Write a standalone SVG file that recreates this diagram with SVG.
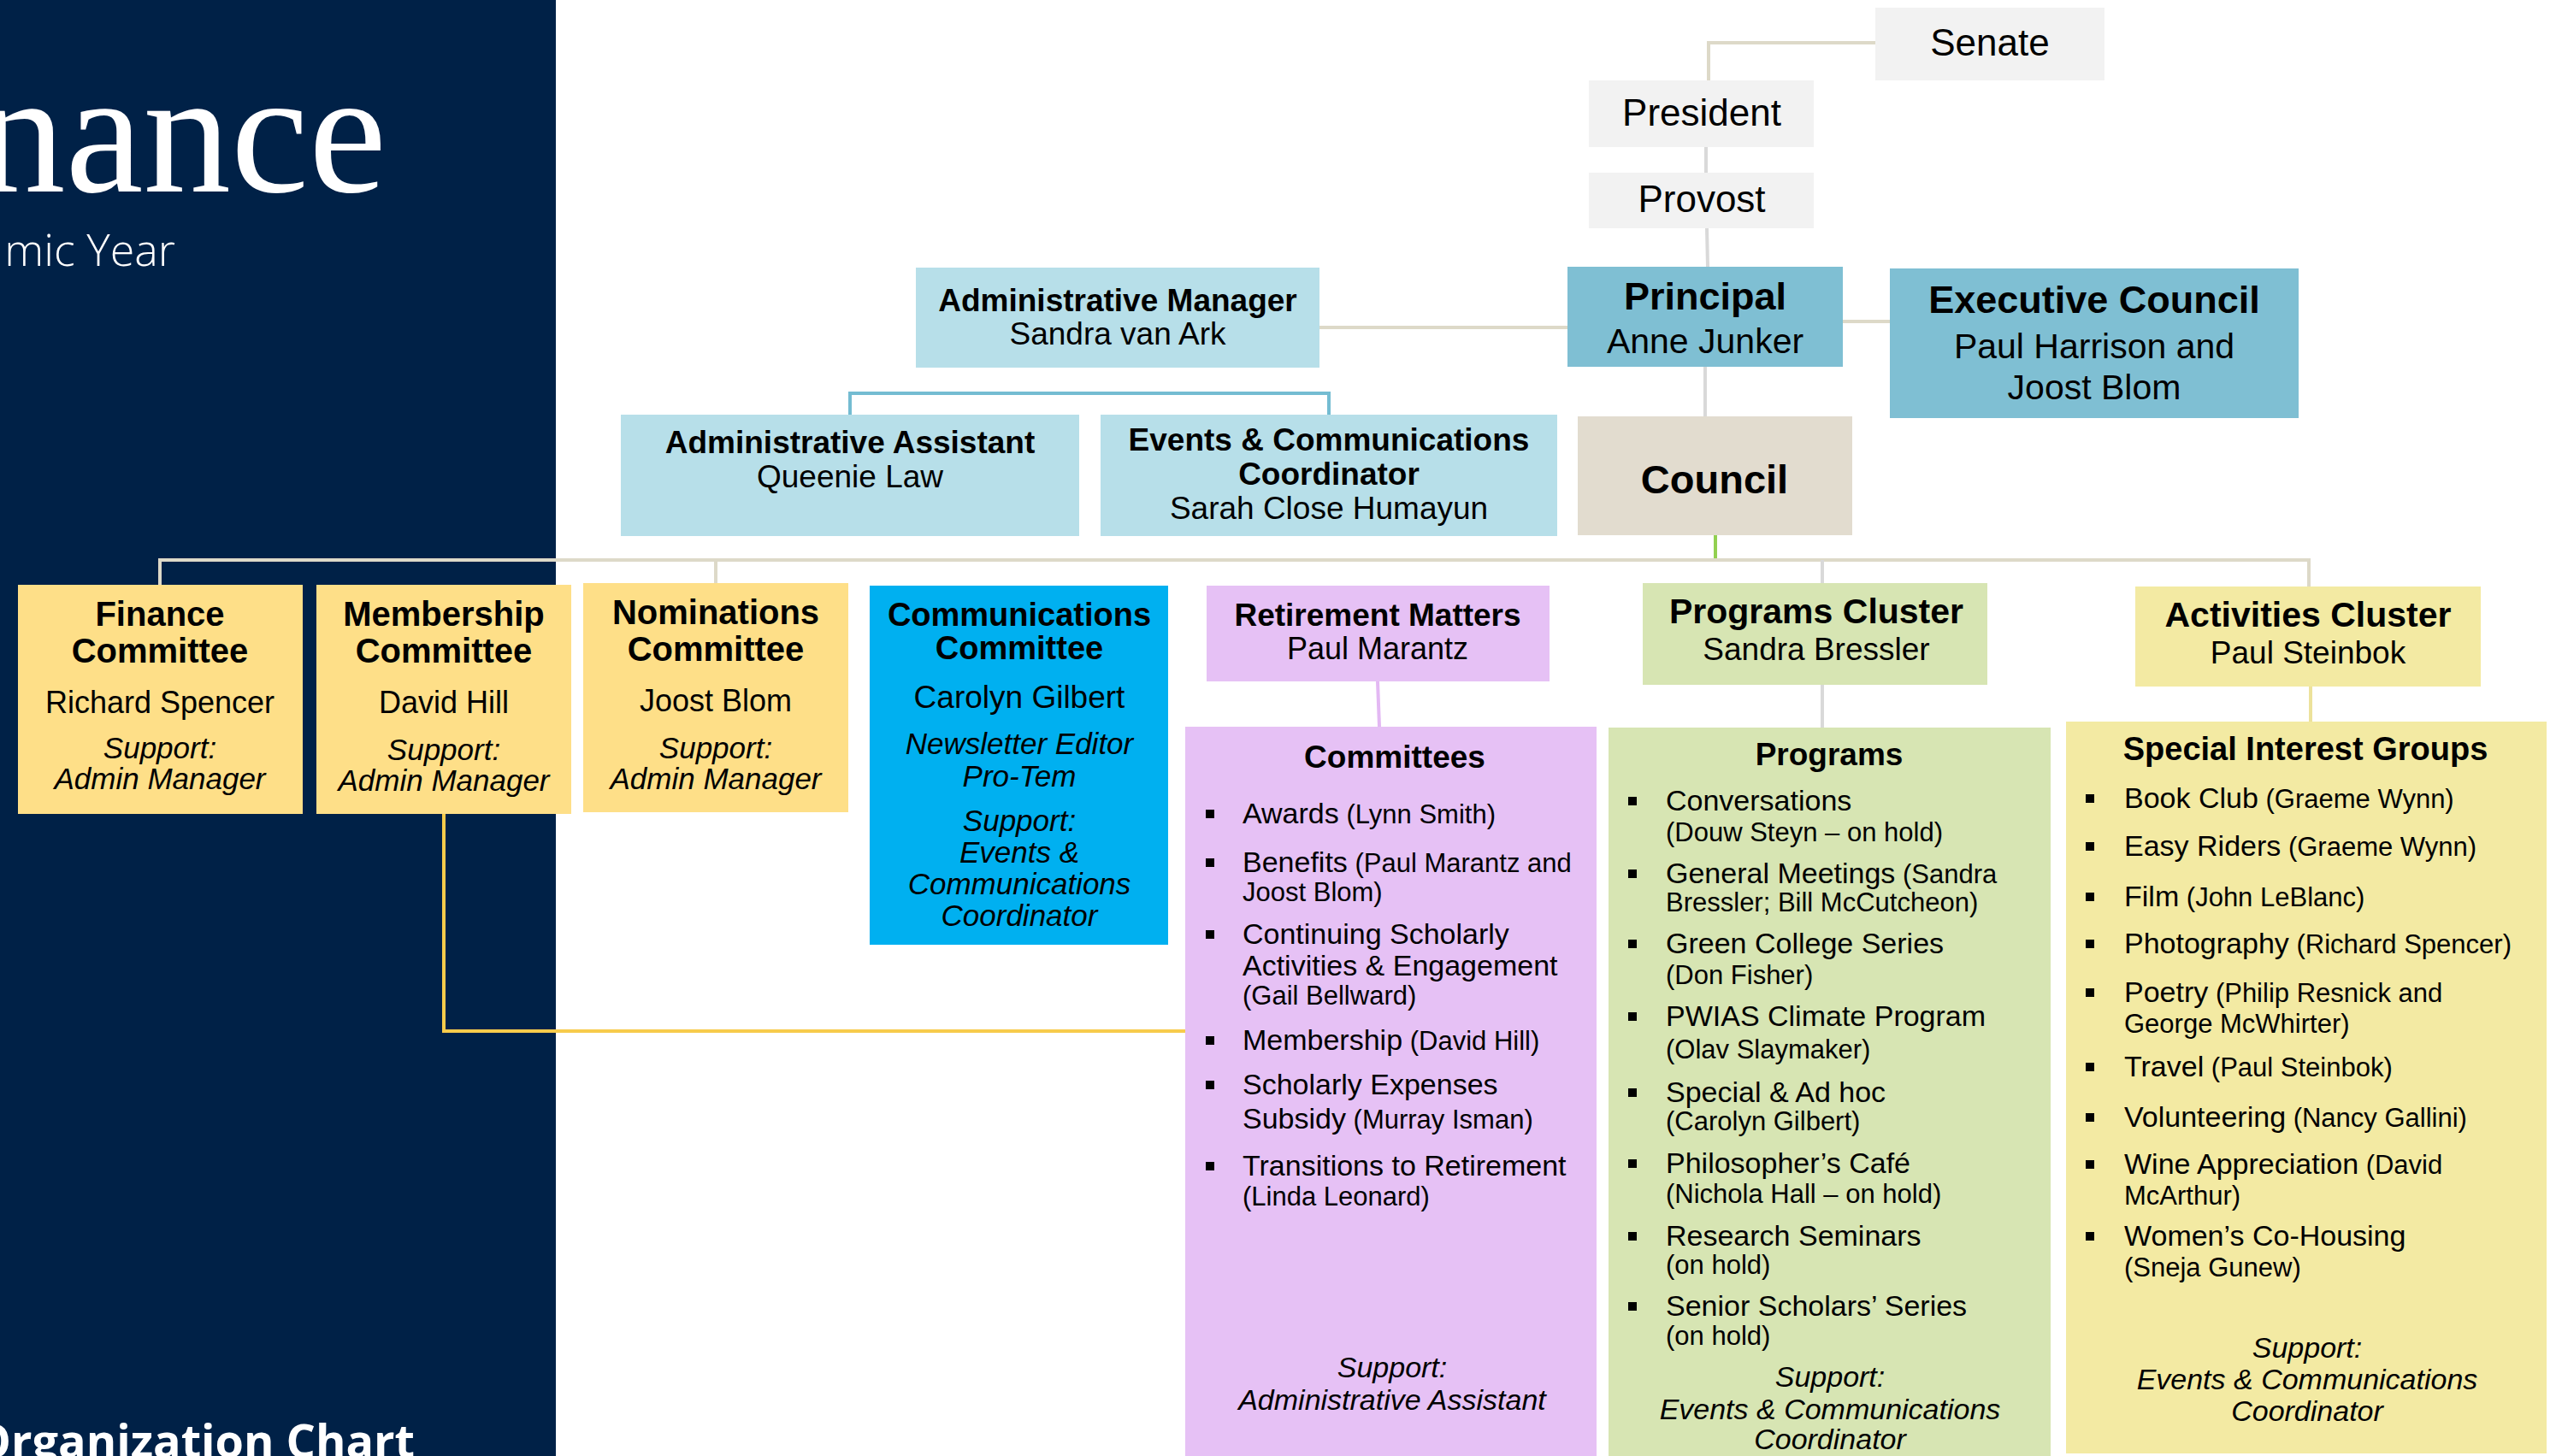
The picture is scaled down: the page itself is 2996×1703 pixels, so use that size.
<svg xmlns="http://www.w3.org/2000/svg" width="2996" height="1703" viewBox="0 0 2996 1703">
<style>
text{font-family:"Liberation Sans",Arial,sans-serif;fill:#000}
.c{text-anchor:middle}
.b{font-weight:bold}
.i{font-style:italic}
.p{font-size:31px}
.it{font-size:34px}
.ln{fill:none;stroke-width:4}
.gray{stroke:#d9d9d9}
.tan{stroke:#ddd9c8}
.bul{fill:#000}
</style>
<rect x="0" y="0" width="2996" height="1703" fill="#ffffff"/>
<g id="panel">
<rect x="0" y="0" width="650" height="1703" fill="#002147"/>
<text x="452" y="224" font-family="Liberation Serif" font-size="205" style="font-family:'Liberation Serif',serif;fill:#fff" text-anchor="end">nance</text>
<text x="205" y="311" font-size="52" style="font-family:'Open Sans',sans-serif;font-weight:300;fill:#fff" text-anchor="end">mic Year</text>
<text x="485" y="1705" font-size="54" style="font-family:'Open Sans',sans-serif;font-weight:bold;fill:#fff" text-anchor="end">Organization Chart</text>
</g>
<g id="connectors">
<polyline class="ln tan" points="1998,94 1998,50 2193,50"/>
<line class="ln gray" x1="1995" y1="172" x2="1995" y2="202"/>
<line class="ln gray" x1="1996" y1="267" x2="1997" y2="312"/>
<line class="ln tan" x1="1543" y1="383" x2="1833" y2="383"/>
<line class="ln tan" x1="2155" y1="376" x2="2210" y2="376"/>
<line class="ln gray" x1="1994" y1="429" x2="1994" y2="487"/>
<polyline class="ln" stroke="#74bcd2" points="994,485 994,460 1554,460 1554,485"/>
<line class="ln" stroke="#92d050" x1="2006" y1="626" x2="2006" y2="655"/>
<polyline class="ln tan" points="187,684 187,655 2700,655 2700,686"/>
<line class="ln tan" x1="837" y1="655" x2="837" y2="682"/>
<line class="ln gray" x1="2131" y1="655" x2="2131" y2="682"/>
<line class="ln gray" x1="2131" y1="801" x2="2131" y2="851"/>
<line class="ln" stroke="#e3b8f3" x1="1611" y1="797" x2="1613" y2="850"/>
<line class="ln" stroke="#ece29b" x1="2702" y1="803" x2="2702" y2="844"/>
<polyline class="ln" stroke="#f7cb4b" points="519,952 519,1206 1386,1206"/>
</g>
<g id="senate">
<rect x="2193" y="9" width="268" height="85" fill="#f2f2f2"/>
<text class="c" x="2327" y="65" font-size="44">Senate</text>
</g>
<g id="president">
<rect x="1858" y="94" width="263" height="78" fill="#f2f2f2"/>
<text class="c" x="1990" y="147" font-size="44">President</text>
</g>
<g id="provost">
<rect x="1858" y="202" width="263" height="65" fill="#f2f2f2"/>
<text class="c" x="1990" y="248" font-size="44">Provost</text>
</g>
<g id="principal">
<rect x="1833" y="312" width="322" height="117" fill="#7fbfd3"/>
<text class="c b" x="1994" y="362" font-size="45">Principal</text>
<text class="c" x="1994" y="413" font-size="41">Anne Junker</text>
</g>
<g id="executive-council">
<rect x="2210" y="314" width="478" height="175" fill="#7fbfd3"/>
<text class="c b" x="2449" y="366" font-size="45">Executive Council</text>
<text class="c" x="2449" y="419" font-size="41">Paul Harrison and</text>
<text class="c" x="2449" y="467" font-size="41">Joost Blom</text>
</g>
<g id="admin-manager">
<rect x="1071" y="313" width="472" height="117" fill="#b7dfe9"/>
<text class="c b" x="1307" y="364" font-size="37">Administrative Manager</text>
<text class="c" x="1307" y="403" font-size="37">Sandra van Ark</text>
</g>
<g id="admin-assistant">
<rect x="726" y="485" width="536" height="142" fill="#b7dfe9"/>
<text class="c b" x="994" y="530" font-size="37">Administrative Assistant</text>
<text class="c" x="994" y="570" font-size="37">Queenie Law</text>
</g>
<g id="events-coordinator">
<rect x="1287" y="485" width="534" height="142" fill="#b7dfe9"/>
<text class="c b" x="1554" y="527" font-size="37">Events &amp; Communications</text>
<text class="c b" x="1554" y="567" font-size="37">Coordinator</text>
<text class="c" x="1554" y="607" font-size="37">Sarah Close Humayun</text>
</g>
<g id="council">
<rect x="1845" y="487" width="321" height="139" fill="#e2dccf"/>
<text class="c b" x="2005" y="577" font-size="47">Council</text>
</g>
<g id="finance">
<rect x="21" y="684" width="333" height="268" fill="#fedf88"/>
<text class="c b" x="187" y="732" font-size="40">Finance</text>
<text class="c b" x="187" y="775" font-size="40">Committee</text>
<text class="c" x="187" y="834" font-size="36">Richard Spencer</text>
<text class="c i" x="187" y="887" font-size="35">Support:</text>
<text class="c i" x="187" y="923" font-size="35">Admin Manager</text>
</g>
<g id="membership">
<rect x="370" y="684" width="298" height="268" fill="#fedf88"/>
<text class="c b" x="519" y="732" font-size="40">Membership</text>
<text class="c b" x="519" y="775" font-size="40">Committee</text>
<text class="c" x="519" y="834" font-size="36">David Hill</text>
<text class="c i" x="519" y="889" font-size="35">Support:</text>
<text class="c i" x="519" y="925" font-size="35">Admin Manager</text>
</g>
<g id="nominations">
<rect x="682" y="682" width="310" height="268" fill="#fedf88"/>
<text class="c b" x="837" y="730" font-size="40">Nominations</text>
<text class="c b" x="837" y="773" font-size="40">Committee</text>
<text class="c" x="837" y="832" font-size="36">Joost Blom</text>
<text class="c i" x="837" y="887" font-size="35">Support:</text>
<text class="c i" x="837" y="923" font-size="35">Admin Manager</text>
</g>
<g id="communications">
<rect x="1017" y="685" width="349" height="420" fill="#00b0f0"/>
<text class="c b" x="1192" y="732" font-size="38">Communications</text>
<text class="c b" x="1192" y="771" font-size="38">Committee</text>
<text class="c" x="1192" y="828" font-size="37">Carolyn Gilbert</text>
<text class="c i" x="1192" y="882" font-size="35">Newsletter Editor</text>
<text class="c i" x="1192" y="920" font-size="35">Pro-Tem</text>
<text class="c i" x="1192" y="972" font-size="35">Support:</text>
<text class="c i" x="1192" y="1009" font-size="35">Events &amp;</text>
<text class="c i" x="1192" y="1046" font-size="35">Communications</text>
<text class="c i" x="1192" y="1083" font-size="35">Coordinator</text>
</g>
<g id="retirement-matters">
<rect x="1411" y="685" width="401" height="112" fill="#e6c1f5"/>
<text class="c b" x="1611" y="732" font-size="37">Retirement Matters</text>
<text class="c" x="1611" y="771" font-size="36">Paul Marantz</text>
</g>
<g id="committees">
<rect x="1386" y="850" width="481" height="853" fill="#e6c1f5"/>
<text class="c b" x="1631" y="898" font-size="37">Committees</text>
<rect class="bul" x="1410" y="947" width="10" height="10"/>
<text class="it" x="1453" y="963">Awards<tspan class="p"> (Lynn Smith)</tspan></text>
<rect class="bul" x="1410" y="1004" width="10" height="10"/>
<text class="it" x="1453" y="1020">Benefits<tspan class="p"> (Paul Marantz and</tspan></text>
<text class="p" x="1453" y="1054">Joost Blom)</text>
<rect class="bul" x="1410" y="1088" width="10" height="10"/>
<text class="it" x="1453" y="1104">Continuing Scholarly</text>
<text class="it" x="1453" y="1141">Activities &amp; Engagement</text>
<text class="p" x="1453" y="1175">(Gail Bellward)</text>
<rect class="bul" x="1410" y="1212" width="10" height="10"/>
<text class="it" x="1453" y="1228">Membership<tspan class="p"> (David Hill)</tspan></text>
<rect class="bul" x="1410" y="1264" width="10" height="10"/>
<text class="it" x="1453" y="1280">Scholarly Expenses</text>
<text class="it" x="1453" y="1320">Subsidy<tspan class="p"> (Murray Isman)</tspan></text>
<rect class="bul" x="1410" y="1359" width="10" height="10"/>
<text class="it" x="1453" y="1375">Transitions to Retirement</text>
<text class="p" x="1453" y="1410">(Linda Leonard)</text>
<text class="c i" x="1628" y="1611" font-size="34">Support:</text>
<text class="c i" x="1628" y="1649" font-size="34">Administrative Assistant</text>
</g>
<g id="programs-cluster">
<rect x="1921" y="682" width="403" height="119" fill="#d7e5b3"/>
<text class="c b" x="2124" y="729" font-size="41">Programs Cluster</text>
<text class="c" x="2124" y="772" font-size="37">Sandra Bressler</text>
</g>
<g id="programs">
<rect x="1881" y="851" width="517" height="852" fill="#d7e5b3"/>
<text class="c b" x="2139" y="895" font-size="37">Programs</text>
<rect class="bul" x="1904" y="932" width="10" height="10"/>
<text class="it" x="1948" y="948">Conversations</text>
<text class="p" x="1948" y="984">(Douw Steyn – on hold)</text>
<rect class="bul" x="1904" y="1017" width="10" height="10"/>
<text class="it" x="1948" y="1033">General Meetings<tspan class="p"> (Sandra</tspan></text>
<text class="p" x="1948" y="1066">Bressler; Bill McCutcheon)</text>
<rect class="bul" x="1904" y="1099" width="10" height="10"/>
<text class="it" x="1948" y="1115">Green College Series</text>
<text class="p" x="1948" y="1151">(Don Fisher)</text>
<rect class="bul" x="1904" y="1184" width="10" height="10"/>
<text class="it" x="1948" y="1200">PWIAS Climate Program</text>
<text class="p" x="1948" y="1238">(Olav Slaymaker)</text>
<rect class="bul" x="1904" y="1273" width="10" height="10"/>
<text class="it" x="1948" y="1289">Special &amp; Ad hoc</text>
<text class="p" x="1948" y="1322">(Carolyn Gilbert)</text>
<rect class="bul" x="1904" y="1356" width="10" height="10"/>
<text class="it" x="1948" y="1372">Philosopher’s Café</text>
<text class="p" x="1948" y="1407">(Nichola Hall – on hold)</text>
<rect class="bul" x="1904" y="1441" width="10" height="10"/>
<text class="it" x="1948" y="1457">Research Seminars</text>
<text class="p" x="1948" y="1490">(on hold)</text>
<rect class="bul" x="1904" y="1523" width="10" height="10"/>
<text class="it" x="1948" y="1539">Senior Scholars’ Series</text>
<text class="p" x="1948" y="1573">(on hold)</text>
<text class="c i" x="2140" y="1622" font-size="34">Support:</text>
<text class="c i" x="2140" y="1660" font-size="34">Events &amp; Communications</text>
<text class="c i" x="2140" y="1695" font-size="34">Coordinator</text>
</g>
<g id="activities-cluster">
<rect x="2497" y="686" width="404" height="117" fill="#f3eaa3"/>
<text class="c b" x="2699" y="733" font-size="41">Activities Cluster</text>
<text class="c" x="2699" y="776" font-size="37">Paul Steinbok</text>
</g>
<g id="special-interest-groups">
<rect x="2416" y="844" width="562" height="856" fill="#f3eaa3"/>
<text class="c b" x="2696" y="889" font-size="38">Special Interest Groups</text>
<rect class="bul" x="2439" y="929" width="10" height="10"/>
<text class="it" x="2484" y="945">Book Club<tspan class="p"> (Graeme Wynn)</tspan></text>
<rect class="bul" x="2439" y="985" width="10" height="10"/>
<text class="it" x="2484" y="1001">Easy Riders<tspan class="p"> (Graeme Wynn)</tspan></text>
<rect class="bul" x="2439" y="1044" width="10" height="10"/>
<text class="it" x="2484" y="1060">Film<tspan class="p"> (John LeBlanc)</tspan></text>
<rect class="bul" x="2439" y="1099" width="10" height="10"/>
<text class="it" x="2484" y="1115">Photography<tspan class="p"> (Richard Spencer)</tspan></text>
<rect class="bul" x="2439" y="1156" width="10" height="10"/>
<text class="it" x="2484" y="1172">Poetry<tspan class="p"> (Philip Resnick and</tspan></text>
<text class="p" x="2484" y="1208">George McWhirter)</text>
<rect class="bul" x="2439" y="1243" width="10" height="10"/>
<text class="it" x="2484" y="1259">Travel<tspan class="p"> (Paul Steinbok)</tspan></text>
<rect class="bul" x="2439" y="1302" width="10" height="10"/>
<text class="it" x="2484" y="1318">Volunteering<tspan class="p"> (Nancy Gallini)</tspan></text>
<rect class="bul" x="2439" y="1357" width="10" height="10"/>
<text class="it" x="2484" y="1373">Wine Appreciation<tspan class="p"> (David</tspan></text>
<text class="p" x="2484" y="1409">McArthur)</text>
<rect class="bul" x="2439" y="1441" width="10" height="10"/>
<text class="it" x="2484" y="1457">Women’s Co-Housing</text>
<text class="p" x="2484" y="1493">(Sneja Gunew)</text>
<text class="c i" x="2698" y="1588" font-size="34">Support:</text>
<text class="c i" x="2698" y="1625" font-size="34">Events &amp; Communications</text>
<text class="c i" x="2698" y="1662" font-size="34">Coordinator</text>
</g>
</svg>
